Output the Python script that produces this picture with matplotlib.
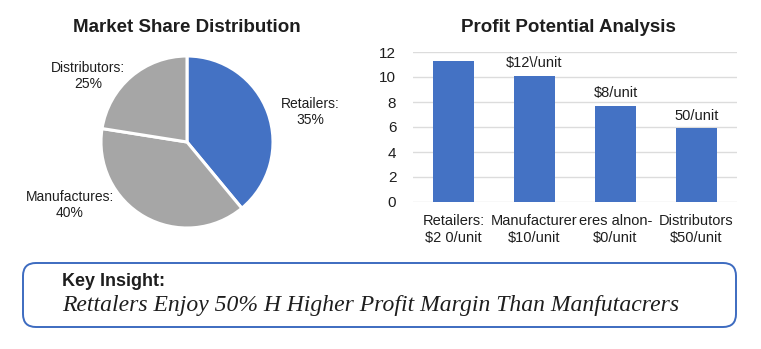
import matplotlib
matplotlib.use("Agg")
import numpy as np
from matplotlib import pyplot as plt
from matplotlib.patches import FancyBboxPatch

# pie data (wedge sizes, labels as printed)
pie_names = ["Retailers", "Manufactures", "Distributors"]
pie_labels = ["Retailers:\n35%", "Manufactures:\n40%", "Distributors:\n25%"]
pie_shares = [39.0, 38.5, 22.5]

# bar data
bar_ticks = ["Retailers:\n$2 0/unit", "Manufacturer\n$10/unit",
             "eres alnon-\n$0/unit", "Distributors\n$50/unit"]
bar_values = [11.3, 10.1, 7.7, 5.9]
bar_notes = ["", "$12\\/unit", "$8/unit", "50/unit"]

BLUE = "#4472c4"
GREY = "#a6a6a6"
TXT = "#1e1e1e"

plt.rcParams['font.family'] = ['Liberation Sans', 'DejaVu Sans']

fig = plt.figure(figsize=(7.61, 3.49), dpi=100)
W, H = 761, 349


def frac(x0, y0, w, h):
    # pixel box (top-left origin) -> figure fraction
    return [x0 / W, 1 - (y0 + h) / H, w / W, h / H]


# ---- pie ----
r = 86
axp = fig.add_axes(frac(187 - r, 142 - r, 2 * r, 2 * r))
axp.pie(pie_shares, colors=[BLUE, GREY, GREY], startangle=90, counterclock=False,
        radius=1, wedgeprops=dict(edgecolor="white", linewidth=2.2))
axp.set_xlim(-1, 1)
axp.set_ylim(-1, 1)
axp.axis("off")
label_pos = [(1.43, 0.35), (-1.36, -0.73), (-1.15, 0.77)]
for lab, (lx, ly) in zip(pie_labels, label_pos):
    axp.text(lx, ly, lab, ha="center", va="center", fontsize=10,
             color=TXT, linespacing=1.15, clip_on=False)
fig.text(187 / W, 1 - 27 / H, "Market Share Distribution", ha="center",
         va="center", fontsize=13.5, fontweight="bold", color=TXT)

# ---- bars ----
axb = fig.add_axes(frac(413, 52, 324, 150))
x = np.arange(len(bar_values))
bars = axb.bar(x, bar_values, width=0.5, color=BLUE, zorder=3)
for b, note in zip(bars, bar_notes):
    if note:
        axb.annotate(note, (b.get_x() + b.get_width() / 2, b.get_height()),
                     xytext=(0, 4), textcoords="offset points", ha="center",
                     va="bottom", fontsize=10.5, color=TXT)
axb.set_xlim(-0.5, 3.5)
axb.set_ylim(0, 12)
axb.set_yticks(range(0, 13, 2))
axb.set_xticks(x)
axb.set_xticklabels(bar_ticks, fontsize=10.5, color=TXT, linespacing=1.25)
axb.tick_params(axis="y", labelsize=11, labelcolor=TXT, length=0, pad=12)
axb.tick_params(axis="x", length=0, pad=9)
axb.grid(axis="y", color="#dcdcdc", linewidth=1, zorder=0)
for s in axb.spines.values():
    s.set_visible(False)
axb.set_axisbelow(True)
fig.text(568 / W, 1 - 27 / H, "Profit Potential Analysis", ha="center",
         va="center", fontsize=13.5, fontweight="bold", color=TXT)

# ---- insight box ----
box = FancyBboxPatch((23 / W, 1 - 327 / H), (736 - 23) / W, (327 - 263) / H,
                     boxstyle="round,pad=0,rounding_size=0.017",
                     transform=fig.transFigure, facecolor="white",
                     edgecolor="#3d6bc0", linewidth=1.4, mutation_aspect=W / H)
fig.patches.append(box)
fig.text(62 / W, 1 - 282 / H, "Key Insight:", ha="left", va="center",
         fontsize=13, fontweight="bold", color=TXT)
fig.text(62 / W, 1 - 306 / H,
         "Rettalers Enjoy 50% H Higher Profit Margin Than Manfutacrers",
         ha="left", va="center", fontsize=17, style="italic", color=TXT,
         family=["Liberation Serif", "DejaVu Serif"])

plt.savefig("out.png", dpi=100)
plt.close()
